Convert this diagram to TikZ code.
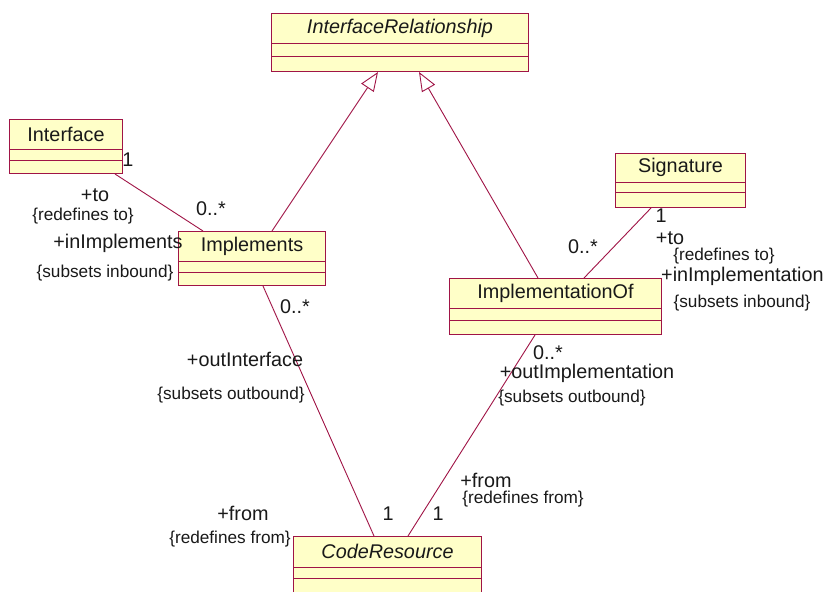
\documentclass[tikz,border=0pt]{standalone}
\usepackage{fontspec}
\setmainfont{Liberation Sans}
\usetikzlibrary{arrows.meta}
\definecolor{umlline}{RGB}{160,20,70}
\definecolor{umlfill}{RGB}{255,255,200}
\definecolor{umltext}{RGB}{25,25,25}

% class box: name, x, y, width, height, name compartment, attribute compartment, title
\newcommand\umlclass[8]{%
  \node[classbox, minimum width=#4pt, minimum height=#5pt] (#1) at (#2,#3) {};
  \draw[divider] ([yshift=-#6pt]#1.north west) -- ([yshift=-#6pt]#1.north east);
  \draw[divider] ([yshift=-#6pt-#7pt]#1.north west) -- ([yshift=-#6pt-#7pt]#1.north east);
  \node[big] (#1-title) at ([yshift=-#6*0.5pt]#1.north) {#8};
}

\begin{document}
\begin{tikzpicture}[x=1pt,y=-1pt,
  classbox/.style={draw=umlline, fill=umlfill, line width=1pt, rectangle, inner sep=0pt, anchor=north west},
  divider/.style={draw=umlline, line width=1pt},
  assoc/.style={draw=umlline, line width=0.9pt},
  gen/.style={assoc, -{Triangle[open,length=19pt,width=15pt]}},
  big/.style={font=\fontsize{19.8}{22}\selectfont, text=umltext, inner sep=0pt},
  small/.style={font=\fontsize{17.2}{19}\selectfont, text=umltext, inner sep=0pt},
]
\fill[white] (0,0) rectangle (826,591);
\useasboundingbox (0,0) rectangle (826,591);

% classes
\umlclass{ir}{271}{13}{257}{58}{31}{13}{\itshape InterfaceRelationship}
\umlclass{iface}{9}{119}{113}{54}{30}{11}{Interface}
\umlclass{impl}{178}{231}{147}{54}{30}{11}{Implements}
\umlclass{sig}{615}{153}{130}{54}{29}{10}{Signature}
\umlclass{implof}{449}{278}{212}{56}{30}{12}{ImplementationOf}
\umlclass{cr}{293}{536}{188}{60}{31}{11}{\itshape CodeResource}

% generalizations
\draw[gen] ([xshift=94pt]impl.north west) -- ([xshift=107pt]ir.south west);
\draw[gen] ([xshift=89pt]implof.north west) -- ([xshift=148pt]ir.south west);

% associations
\draw[assoc] ([xshift=106pt]iface.south west) -- ([xshift=25pt]impl.north west);
\draw[assoc] ([xshift=36pt]sig.south west) -- ([xshift=135pt]implof.north west);
\draw[assoc] ([xshift=85pt]impl.south west) -- ([xshift=81pt]cr.north west);
\draw[assoc] ([xshift=86pt]implof.south west) -- ([xshift=115pt]cr.north west);

% Interface -- Implements ends
\node[big] (m1) at (128,160) {1};
\node[big] (r1) at (95,195) {+to};
\node[small] (c1) at (83,216) {\{redefines to\}};
\node[big] (m2) at (211,209) {0..*};
\node[big] (r2) at (118,243) {+inImplements};
\node[small] (c2) at (105,273) {\{subsets inbound\}};

% Implements -- CodeResource ends
\node[big] (m3) at (295,307) {0..*};
\node[big] (r3) at (245,359) {+outInterface};
\node[small] (c3) at (231,395) {\{subsets outbound\}};
\node[big] (m4) at (388,514) {1};
\node[big] (r4) at (243,513) {+from};
\node[small] (c4) at (230,539) {\{redefines from\}};

% ImplementationOf -- CodeResource ends
\node[big] (m5) at (548,353) {0..*};
\node[big] (r5) at (587,373) {+outImplementation};
\node[small] (c5) at (572,398) {\{subsets outbound\}};
\node[big] (m6) at (438,514) {1};
\node[big] (r6) at (486,480) {+from};
\node[small] (c6) at (523,499) {\{redefines from\}};

% Signature -- ImplementationOf ends
\node[big] (m7) at (661,216) {1};
\node[big] (r7) at (670,238) {+to};
\node[small] (c7) at (724,256) {\{redefines to\}};
\node[big, anchor=west] (r8) at (661,276) {+inImplementation};
\node[small] (c8) at (742,303) {\{subsets inbound\}};
\node[big] (m8) at (583,247) {0..*};
\end{tikzpicture}
\end{document}
